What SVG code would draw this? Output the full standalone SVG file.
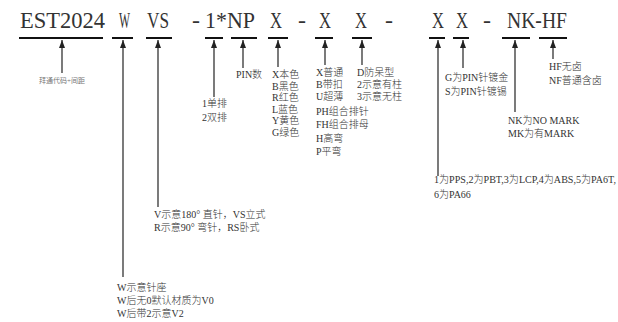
<svg xmlns="http://www.w3.org/2000/svg" width="618" height="322" viewBox="0 0 618 322">
<style>
.t{font-family:"Liberation Serif","Noto Sans CJK SC",serif;font-size:24px;fill:#333}
.u{stroke:#111;stroke-width:2}
.c{stroke:#333;stroke-width:1.3;fill:none;marker-end:url(#ah)}
.l{font-family:"Liberation Serif","Noto Sans CJK SC",serif;font-size:10px;font-weight:300;fill:#333}
.s{font-family:"Liberation Serif","Noto Sans CJK SC",sans-serif;font-size:7px;fill:#777}
</style>
<defs>
<marker id="ah" markerUnits="userSpaceOnUse" markerWidth="8" markerHeight="6" refX="8" refY="3" orient="auto">
<path d="M0,0 L8,3 L0,6 z" fill="#222"/>
</marker>
</defs>
<rect width="618" height="322" fill="#fff"/>
<g id="title-tokens">
<g id="n-est"><text class="t" x="20" y="28" textLength="85" lengthAdjust="spacingAndGlyphs">EST2024</text><line class="u" x1="19" y1="38" x2="103" y2="38"/></g>
<g id="n-w"><text class="t" x="119" y="28" textLength="11" lengthAdjust="spacingAndGlyphs">W</text><line class="u" x1="112" y1="38" x2="133" y2="38"/></g>
<g id="n-vs"><text class="t" x="147" y="28" textLength="22" lengthAdjust="spacingAndGlyphs">VS</text><line class="u" x1="146" y1="38" x2="172" y2="38"/></g>
<text class="t" x="192" y="28" textLength="8" lengthAdjust="spacingAndGlyphs">-</text>
<g id="n-np"><text class="t" x="205" y="28" textLength="50" lengthAdjust="spacingAndGlyphs">1*NP</text><line class="u" x1="205" y1="38" x2="223" y2="38"/><line class="u" x1="231" y1="38" x2="257" y2="38"/></g>
<g id="n-x1"><text class="t" x="270" y="28" textLength="12" lengthAdjust="spacingAndGlyphs">X</text><line class="u" x1="268" y1="38" x2="288" y2="38"/></g>
<text class="t" x="298" y="28" textLength="8" lengthAdjust="spacingAndGlyphs">-</text>
<g id="n-x2"><text class="t" x="319" y="28" textLength="12" lengthAdjust="spacingAndGlyphs">X</text><line class="u" x1="315" y1="38" x2="333" y2="38"/></g>
<g id="n-x3"><text class="t" x="355" y="28" textLength="12" lengthAdjust="spacingAndGlyphs">X</text><line class="u" x1="352" y1="38" x2="372" y2="38"/></g>
<text class="t" x="385" y="28" textLength="8" lengthAdjust="spacingAndGlyphs">-</text>
<g id="n-x4"><text class="t" x="432" y="28" textLength="12" lengthAdjust="spacingAndGlyphs">X</text><line class="u" x1="429" y1="38" x2="445" y2="38"/></g>
<g id="n-x5"><text class="t" x="456" y="28" textLength="12" lengthAdjust="spacingAndGlyphs">X</text><line class="u" x1="453" y1="38" x2="469" y2="38"/></g>
<text class="t" x="483" y="28" textLength="8" lengthAdjust="spacingAndGlyphs">-</text>
<g id="n-nkhf"><text class="t" x="507" y="28" textLength="60" lengthAdjust="spacingAndGlyphs">NK-HF</text><line class="u" x1="502" y1="38" x2="530" y2="38"/><line class="u" x1="539" y1="38" x2="567" y2="38"/></g>
</g>
<g id="connectors">
<line class="c" x1="62" y1="73" x2="62" y2="40"/>
<line class="c" x1="123" y1="277" x2="123" y2="40"/>
<line class="c" x1="158" y1="207" x2="158" y2="40"/>
<line class="c" x1="214" y1="97" x2="214" y2="40"/>
<line class="c" x1="243" y1="68" x2="243" y2="40"/>
<line class="c" x1="278" y1="67" x2="278" y2="40"/>
<line class="c" x1="325" y1="65" x2="325" y2="40"/>
<line class="c" x1="362" y1="65" x2="362" y2="40"/>
<line class="c" x1="438" y1="176" x2="438" y2="40"/>
<line class="c" x1="463" y1="68" x2="463" y2="40"/>
<line class="c" x1="515" y1="112" x2="515" y2="40"/>
<line class="c" x1="553" y1="59" x2="553" y2="40"/>
</g>
<g id="l-est"><text class="s" x="62" y="83" text-anchor="middle">拜通代码+间距</text></g>
<g id="l-w"><text class="l" x="117" y="291">W示意针座</text><text class="l" x="117" y="304">W后无0默认材质为V0</text><text class="l" x="117" y="317">W后带2示意V2</text></g>
<g id="l-vs"><text class="l" x="154" y="218">V示意180° 直针，VS立式</text><text class="l" x="154" y="231">R示意90° 弯针，RS卧式</text></g>
<g id="l-row"><text class="l" x="202" y="107">1单排</text><text class="l" x="202" y="121">2双排</text></g>
<g id="l-pin"><text class="l" x="236" y="78">PIN数</text></g>
<g id="l-color"><text class="l" x="272" y="78">X本色</text><text class="l" x="272" y="89.5">B黑色</text><text class="l" x="272" y="101">R红色</text><text class="l" x="272" y="112.5">L蓝色</text><text class="l" x="272" y="124">Y黄色</text><text class="l" x="272" y="135.5">G绿色</text></g>
<g id="l-type"><text class="l" x="316" y="76">X普通</text><text class="l" x="316" y="88">B带扣</text><text class="l" x="316" y="100">U超薄</text><text class="l" x="316" y="115">PH组合排针</text><text class="l" x="316" y="128">FH组合排母</text><text class="l" x="316" y="142">H高弯</text><text class="l" x="316" y="155">P平弯</text></g>
<g id="l-post"><text class="l" x="357" y="76">D防呆型</text><text class="l" x="357" y="88">2示意有柱</text><text class="l" x="357" y="100">3示意无柱</text></g>
<g id="l-mat"><text class="l" x="434" y="183" textLength="182" lengthAdjust="spacingAndGlyphs">1为PPS,2为PBT,3为LCP,4为ABS,5为PA6T,</text><text class="l" x="434" y="198">6为PA66</text></g>
<g id="l-plate"><text class="l" x="445" y="81">G为PIN针镀金</text><text class="l" x="445" y="95">S为PIN针镀锡</text></g>
<g id="l-mark"><text class="l" x="508" y="124">NK为NO MARK</text><text class="l" x="508" y="137">MK为有MARK</text></g>
<g id="l-hf"><text class="l" x="549" y="70">HF无卤</text><text class="l" x="549" y="84">NF普通含卤</text></g>
</svg>
